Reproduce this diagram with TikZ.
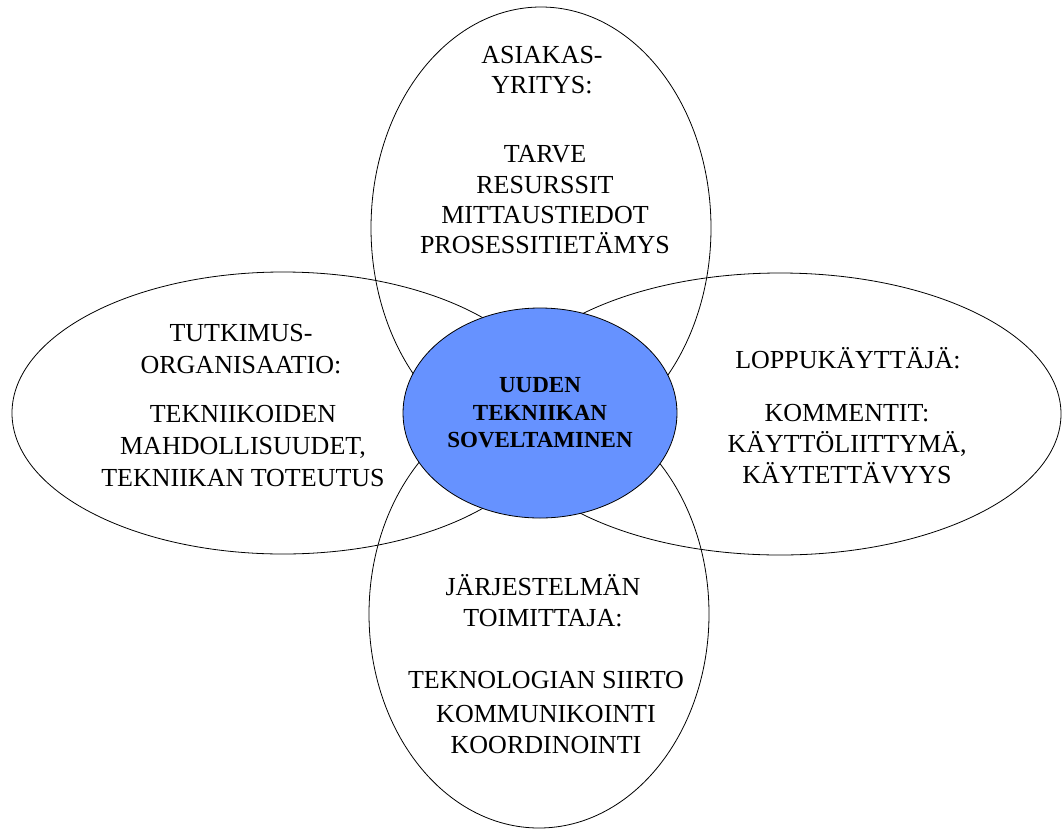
\documentclass[tikz,border=0pt]{standalone}
\usepackage{fontspec}
\setmainfont{Liberation Serif}
\usetikzlibrary{shapes.geometric}
\definecolor{coreblue}{RGB}{102,146,255}
\tikzset{
  petal/.style={ellipse, draw=black, line width=0.8pt, inner sep=0pt},
  core/.style={ellipse, draw=black, line width=0.8pt, fill=coreblue, inner sep=0pt},
  txt/.style={anchor=base, inner sep=0pt, font=\fontsize{26}{30}\selectfont},
  btxt/.style={anchor=base, inner sep=0pt, font=\fontsize{23}{27}\selectfont\bfseries}
}
\begin{document}
\begin{tikzpicture}[x=1pt,y=-1pt]
\useasboundingbox (0,0) rectangle (1062,830);
\node[petal, minimum width=340pt, minimum height=442pt] (top) at (541,228) {};
\node[petal, minimum width=340pt, minimum height=428pt] (bottom) at (539,614) {};
\node[petal, minimum width=542pt, minimum height=282pt] (left) at (283,413) {};
\node[petal, minimum width=562pt, minimum height=282pt] (right) at (780,414) {};
\node[core, minimum width=274pt, minimum height=210pt] (center) at (540,413) {};

\node[btxt] (c1) at (540,392) {UUDEN};
\node[btxt] (c2) at (540,420) {TEKNIIKAN};
\node[btxt] (c3) at (540,447) {SOVELTAMINEN};

\node[txt] (a1) at (542,63) {ASIAKAS-};
\node[txt] (a2) at (542,93) {YRITYS:};
\node[txt] (a3) at (545,162) {TARVE};
\node[txt] (a4) at (545,193) {RESURSSIT};
\node[txt] (a5) at (545,223) {MITTAUSTIEDOT};
\node[txt] (a6) at (545,253) {PROSESSITIETÄMYS};

\node[txt] (l1) at (241,341) {TUTKIMUS-};
\node[txt] (l2) at (241,373) {ORGANISAATIO:};
\node[txt] (l3) at (243,422) {TEKNIIKOIDEN};
\node[txt] (l4) at (243,454) {MAHDOLLISUUDET,};
\node[txt] (l5) at (243,486) {TEKNIIKAN TOTEUTUS};

\node[txt] (r1) at (848,368) {LOPPUKÄYTTÄJÄ:};
\node[txt] (r2) at (847,421) {KOMMENTIT:};
\node[txt] (r3) at (847,452) {KÄYTTÖLIITTYMÄ,};
\node[txt] (r4) at (847,483) {KÄYTETTÄVYYS};

\node[txt] (b1) at (543,595) {JÄRJESTELMÄN};
\node[txt] (b2) at (543,626) {TOIMITTAJA:};
\node[txt] (b3) at (546,688) {TEKNOLOGIAN SIIRTO};
\node[txt] (b4) at (546,722) {KOMMUNIKOINTI};
\node[txt] (b5) at (546,753) {KOORDINOINTI};
\end{tikzpicture}
\end{document}
